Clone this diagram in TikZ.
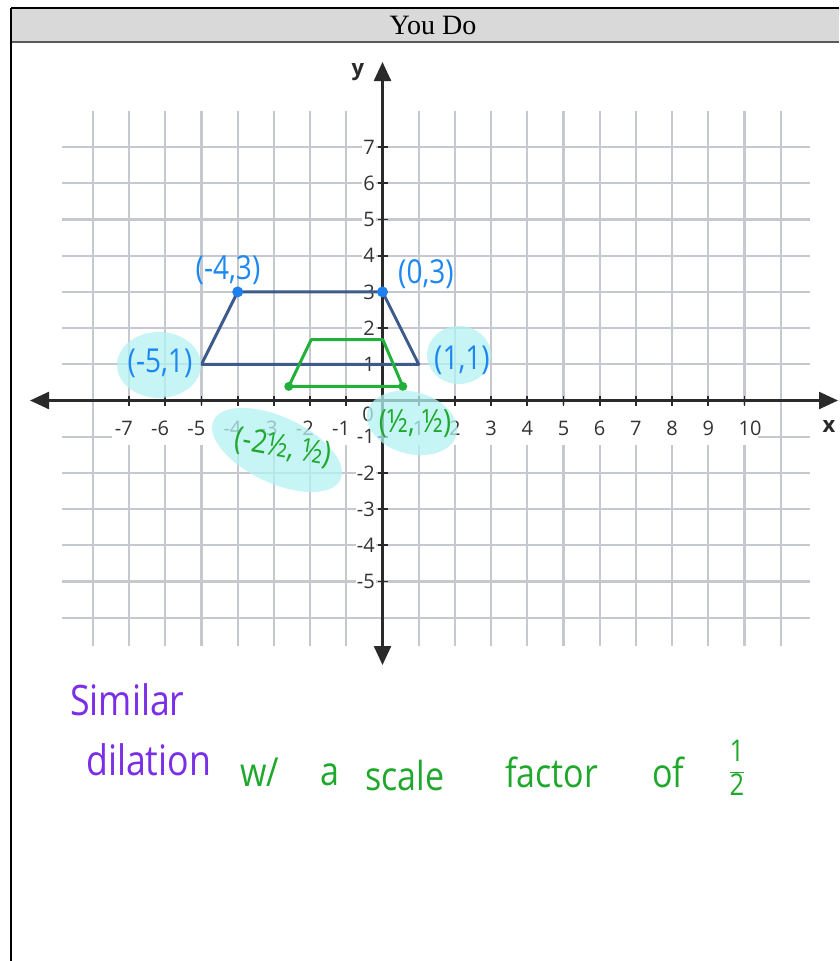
\documentclass[tikz,border=0pt]{standalone}
\usepackage{fontspec}
\setmainfont{Open Sans}
\newfontfamily\serifY{Liberation Serif}
\newfontfamily\hand{Open Sans}[FakeStretch=0.85]
\usetikzlibrary{arrows.meta}
\definecolor{gridc}{HTML}{C5C8CF}
\definecolor{axc}{HTML}{2A2A2A}
\definecolor{labc}{HTML}{333333}
\definecolor{trapb}{HTML}{3C5A8A}
\definecolor{dotb}{HTML}{1E7FEE}
\definecolor{handb}{HTML}{1E88F2}
\definecolor{handg}{HTML}{1FA82C}
\definecolor{trapg}{HTML}{22B03A}
\definecolor{handp}{HTML}{7A2EE6}
\definecolor{hilite}{HTML}{B4F2F2}
\definecolor{headc}{HTML}{D9D9D9}
\tikzset{
  gridl/.style={draw=gridc, line width=2.2pt},
  axisl/.style={draw=axc, line width=2.4pt},
  tickl/.style={draw=axc, line width=1.8pt},
  xlab/.style={font=\fontsize{20}{20}\selectfont, text=labc, inner sep=1pt},
  ylab/.style={font=\fontsize{20}{20}\selectfont, text=labc, fill=white, inner sep=1pt, anchor=east},
  hlt/.style={fill=hilite, opacity=0.75},
  handbl/.style={font=\hand\fontsize{33}{33}\selectfont, text=handb, inner sep=0pt},
  handgr/.style={font=\hand\fontsize{32}{32}\selectfont, text=handg, inner sep=0pt},
  handpu/.style={font=\hand\fontsize{42}{42}\selectfont, text=handp, inner sep=0pt, anchor=west},
  handgb/.style={font=\hand\fontsize{40}{40}\selectfont, text=handg, inner sep=0pt, anchor=west},
  trapbs/.style={draw=trapb, line width=3pt, line join=round},
  trapgs/.style={draw=trapg, line width=3pt, line join=round},
}
\begin{document}
\begin{tikzpicture}[x=1pt,y=-1pt]
\pgfmathsetmacro{\ox}{382.5}
\pgfmathsetmacro{\oy}{400.5}
\pgfmathsetmacro{\gu}{36.2}
\useasboundingbox (0,0) rectangle (839,961);
% header
\fill[headc] (11,8) rectangle (839,42);
\draw[black,line width=1.5pt] (11,8) -- (839,8);
\draw[gray!70!black,line width=1.5pt] (11,42) -- (839,42);
\node[font=\serifY\fontsize{28}{28}\selectfont] (title) at (433,25) {You Do};
\draw[black,line width=2pt] (11,8) -- (11,961);
% grid
\foreach \i in {-8,...,11}{\ifnum\i=0\else
  \draw[gridl] ({\ox+\gu*\i},111) -- ({\ox+\gu*\i},646);\fi}
\foreach \j in {-6,...,7}{\ifnum\j=0\else
  \draw[gridl] (62,{\oy-\gu*\j}) -- (810,{\oy-\gu*\j});\fi}
\fill[white] (112,405) rectangle (758,445);
% axes
\coordinate (xL) at (30,\oy);
\coordinate (xR) at (838,\oy);
\coordinate (yT) at (\ox,62);
\coordinate (yB) at (\ox,665);
\draw[axisl,{Triangle[length=19pt,width=17pt]}-{Triangle[length=19pt,width=17pt]}] (xL) -- (xR);
\draw[axisl,{Triangle[length=19pt,width=17pt]}-{Triangle[length=19pt,width=17pt]}] (yT) -- (yB);
\foreach \i in {-7,...,10}{\ifnum\i=0\else
  \draw[tickl] ({\ox+\gu*\i},{\oy-5}) -- ({\ox+\gu*\i},{\oy+5});\fi}
\foreach \j in {-5,...,7}{\ifnum\j=0\else
  \draw[tickl] ({\ox-5},{\oy-\gu*\j}) -- ({\ox+5},{\oy-\gu*\j});\fi}
\node[font=\bfseries\fontsize{22}{22}\selectfont, text=axc] (ylabel) at (358,72) {y};
\node[font=\bfseries\fontsize{22}{22}\selectfont, text=axc] (xlabel) at (829,426) {x};
% tick labels
\foreach \i in {1,...,7}
  \node[xlab] (xn\i) at ({\ox-\gu*\i-2},428) {\llap{-}\i};
\foreach \i in {1,...,9}
  \node[xlab] (xp\i) at ({\ox+\gu*\i},428) {\i};
\node[xlab] (xp10) at (750,428) {10};
\node[xlab] (zero) at (368,414) {0};
\foreach \j in {1,...,7}
  \node[ylab] (yp\j) at (376,{\oy-\gu*\j}) {\j};
\foreach \j in {1,...,5}
  \node[ylab] (yn\j) at (376,{\oy+\gu*\j}) {-\j};
% blue trapezoid
\coordinate (A) at ({\ox-4*\gu},{\oy-3*\gu});
\coordinate (B) at ({\ox},{\oy-3*\gu});
\coordinate (C) at ({\ox+1*\gu},{\oy-1*\gu});
\coordinate (D) at ({\ox-5*\gu},{\oy-1*\gu});
\draw[trapbs] (A) -- (B) -- (C) -- (D) -- cycle;
\fill[dotb] (A) circle (5.5pt);
\fill[dotb] (B) circle (5.5pt);
% green trapezoid
\coordinate (G1) at ({\ox-2.59*\gu},{\oy-0.39*\gu});
\coordinate (G2) at ({\ox-1.97*\gu},{\oy-1.68*\gu});
\coordinate (G3) at ({\ox+0.01*\gu},{\oy-1.68*\gu});
\coordinate (G4) at ({\ox+0.56*\gu},{\oy-0.39*\gu});
\draw[trapgs] (G1) -- (G2) -- (G3) -- (G4) -- cycle;
\fill[trapg] (G1) circle (4.5pt);
\fill[trapg] (G4) circle (4.5pt);
% highlights
\fill[hlt] (159,365) ellipse [x radius=42pt, y radius=33pt];
\fill[hlt] (459,355) ellipse [x radius=32pt, y radius=29pt];
\fill[hlt, rotate around={-15:(412,423)}] (412,423) ellipse [x radius=46pt, y radius=31pt];
\fill[hlt, rotate around={-25:(277,450)}] (277,450) ellipse [x radius=70pt, y radius=33pt];
% annotations
\node[handbl] (lA) at (228,270) {(-4,3)};
\node[handbl] (lB) at (426,274) {(0,3)};
\node[handbl] (lC) at (160,363) {(-5,1)};
\node[handbl] (lD) at (462,360) {(1,1)};
\node[handgr, rotate=-10] (lE) at (283,448) {(-2½, ½)};
\node[handgr] (lF) at (415,424) {(½, ½)};
% bottom text
\node[handpu] (sim) at (70,700) {Similar};
\node[handpu] (dil) at (86,760) {dilation};
\node[handgb] (w1) at (240,772) {w/};
\node[handgb] (w2) at (320,775) {a};
\node[handgb] (w3) at (365,775) {scale};
\node[handgb] (w4) at (505,772) {factor};
\node[handgb] (w5) at (652,772) {of};
\node[font=\hand\fontsize{30}{30}\selectfont, text=handg, inner sep=0pt] (frac) at (737,768) {$\displaystyle\frac{\mbox{1}}{\mbox{2}}$};
\end{tikzpicture}
\end{document}
